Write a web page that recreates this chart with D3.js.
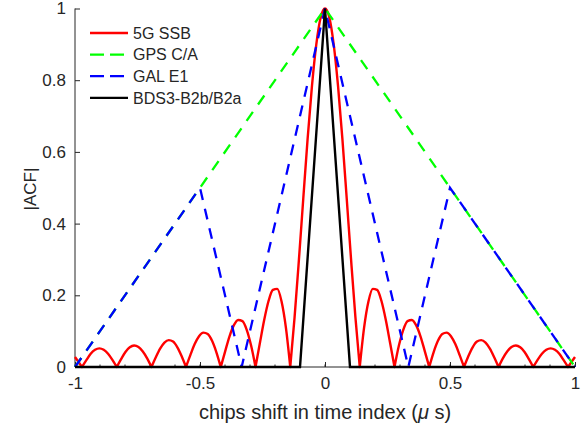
<!DOCTYPE html>
<html>
<head>
<meta charset="utf-8">
<script src="https://cdn.jsdelivr.net/npm/d3@7"></script>
<style>
  body { margin: 0; background: #fff; }
  text { font-family: "Liberation Sans", Arial, Helvetica, sans-serif; fill: #262626; }
</style>
</head>
<body>
<svg id="chart" width="585" height="430"></svg>
<script>
// 5G SSB: zero crossings of |ACF| on the positive side
var ssbZeros = [0, 0.139, 0.278, 0.417, 0.556, 0.694, 0.833, 0.972]
// samples of each lobe, evenly spaced between two zeros (first one = half main lobe, peak -> zero)
var ssbMainHalf = [1, 0.975, 0.90, 0.784, 0.637, 0.47, 0.30, 0.139, 0]
var ssbSideLobes = [
  [0, 0.11, 0.183, 0.218, 0.215, 0.184, 0.131, 0.066, 0],
  [0, 0.059, 0.103, 0.128, 0.131, 0.116, 0.085, 0.043, 0],
  [0, 0.041, 0.073, 0.092, 0.096, 0.086, 0.064, 0.033, 0],
  [0, 0.030, 0.055, 0.071, 0.075, 0.068, 0.051, 0.027, 0],
  [0, 0.024, 0.043, 0.056, 0.060, 0.055, 0.042, 0.022, 0],
  [0, 0.020, 0.037, 0.048, 0.052, 0.048, 0.037, 0.019, 0]
]
// last partial lobe, from 0.972 up to the edge at 1
var ssbEdgeX = [0.972, 0.990, 1]
var ssbEdgeY = [0, 0.018, 0.028]

var gpsX = [-1, 0, 1]
var gpsY = [0, 1, 0]
var galX = [-1, -0.5, -1/3, 0, 1/3, 0.5, 1]
var galY = [0, 0.5, 0, 1, 0, 0.5, 0]
var bdsX = [-1, -0.1, 0, 0.1, 1]
var bdsY = [0, 0, 1, 0, 0]

var xTicks = [-1, -0.5, 0, 0.5, 1]
var xMinor = d3.range(-10, 11).map(function(d){ return d / 10 })
var yTicks = [0, 0.2, 0.4, 0.6, 0.8, 1]

var series = [
  { name: '5G SSB', color: '#ff0000', dash: null },
  { name: 'GPS C/A', color: '#00ff00', dash: '11,9' },
  { name: 'GAL E1', color: '#0000ff', dash: '11,9' },
  { name: 'BDS3-B2b/B2a', color: '#000000', dash: null }
]

var svg = d3.select('#chart')
  , mLeft = 75, mRight = 575, mTop = 8.5, mBottom = 367
  , x = d3.scaleLinear().domain([-1, 1]).range([mLeft, mRight])
  , y = d3.scaleLinear().domain([0, 1]).range([mBottom, mTop])
  , axisColor = '#262626'

// axes (box off, ticks inside)
var xAxis = svg.append('g').attr('transform', 'translate(0,' + mBottom + ')')
xAxis.call(d3.axisBottom(x).tickValues(xTicks).tickSize(-5).tickPadding(10)
  .tickFormat(function(d){ return d === 0 ? '0' : String(d) }))
xAxis.append('g').selectAll('line').data(xMinor).enter().append('line')
  .attr('x1', x).attr('x2', x).attr('y1', 0).attr('y2', -2.5)
  .attr('stroke', axisColor)

var yAxis = svg.append('g').attr('transform', 'translate(' + mLeft + ',0)')
yAxis.call(d3.axisLeft(y).tickValues(yTicks).tickSize(-5).tickPadding(9)
  .tickFormat(function(d){ return d === 0 ? '0' : d === 1 ? '1' : d3.format('.1f')(d) }))

xAxis.select('.domain').attr('stroke', axisColor).attr('d', 'M' + mLeft + ',0H' + mRight)
yAxis.select('.domain').attr('stroke', axisColor).attr('d', 'M0,' + mBottom + 'V' + mTop)
svg.selectAll('.tick line').attr('stroke', axisColor)
svg.selectAll('.tick text').attr('font-size', 17).attr('fill', axisColor)
  .style('font-family', '"Liberation Sans", Arial, sans-serif')

// labels
var xLabel = svg.append('text').attr('x', (mLeft + mRight) / 2).attr('y', 419)
  .attr('text-anchor', 'middle').attr('font-size', 20)
xLabel.append('tspan').text('chips shift in time index (')
xLabel.append('tspan').attr('font-style', 'italic').text('\u03bc')
xLabel.append('tspan').text(' s)')
svg.append('text').attr('transform', 'translate(36,189) rotate(-90)')
  .attr('text-anchor', 'middle').attr('font-size', 17)
  .text('|ACF|')

// build 5G SSB path from lobe segments so the zeros stay as cusps
var curve = d3.line().x(function(d){ return x(d[0]) }).y(function(d){ return y(d[1]) })
  .curve(d3.curveMonotoneX)

function lobePoints(x0, x1, vals){
  var n = vals.length - 1
  return vals.map(function(v, i){ return [x0 + (x1 - x0) * i / n, v] })
}
function mirror(seg){ return seg.map(function(p){ return [-p[0], p[1]] }).reverse() }

var main = lobePoints(0, ssbZeros[1], ssbMainHalf)
var mainFull = mirror(main.slice(1)).concat(main)
var segsPos = ssbSideLobes.map(function(vals, i){
  return lobePoints(ssbZeros[i + 1], ssbZeros[i + 2], vals)
})
segsPos.push(ssbEdgeX.map(function(v, i){ return [v, ssbEdgeY[i]] }))
var segs = segsPos.slice().reverse().map(mirror).concat([mainFull]).concat(segsPos)

var ssbD = segs.map(function(s, i){
  var d = curve(s)
  return i === 0 ? d : 'L' + d.slice(1)
}).join('')

var plot = svg.append('g')
plot.append('path').attr('d', ssbD)
  .attr('fill', 'none').attr('stroke', series[0].color).attr('stroke-width', 2.4)
  .attr('stroke-linejoin', 'round')

var straight = d3.line().x(function(d){ return x(d[0]) }).y(function(d){ return y(d[1]) })
function zip(a, b){ return a.map(function(v, i){ return [v, b[i]] }) }

plot.append('path').attr('d', straight(zip(gpsX, gpsY)))
  .attr('fill', 'none').attr('stroke', series[1].color).attr('stroke-width', 2.3)
  .attr('stroke-dasharray', series[1].dash)
plot.append('path').attr('d', straight(zip(galX, galY)))
  .attr('fill', 'none').attr('stroke', series[2].color).attr('stroke-width', 2.3)
  .attr('stroke-dasharray', series[2].dash)
plot.append('path').attr('d', straight(zip(bdsX, bdsY)))
  .attr('fill', 'none').attr('stroke', series[3].color).attr('stroke-width', 2.4)

// legend, no box
var legend = svg.append('g').selectAll('g').data(series).enter().append('g')
  .attr('transform', function(d, i){ return 'translate(90,' + (33 + i * 21.6) + ')' })
legend.append('line').attr('x1', 0).attr('x2', 38)
  .attr('stroke', function(d){ return d.color }).attr('stroke-width', 2.3)
  .attr('stroke-dasharray', function(d){ return d.dash ? '14,6' : null })
legend.append('text').attr('x', 43).attr('dy', '0.36em').attr('font-size', 16)
  .attr('fill', '#000').text(function(d){ return d.name })
</script>
</body>
</html>
